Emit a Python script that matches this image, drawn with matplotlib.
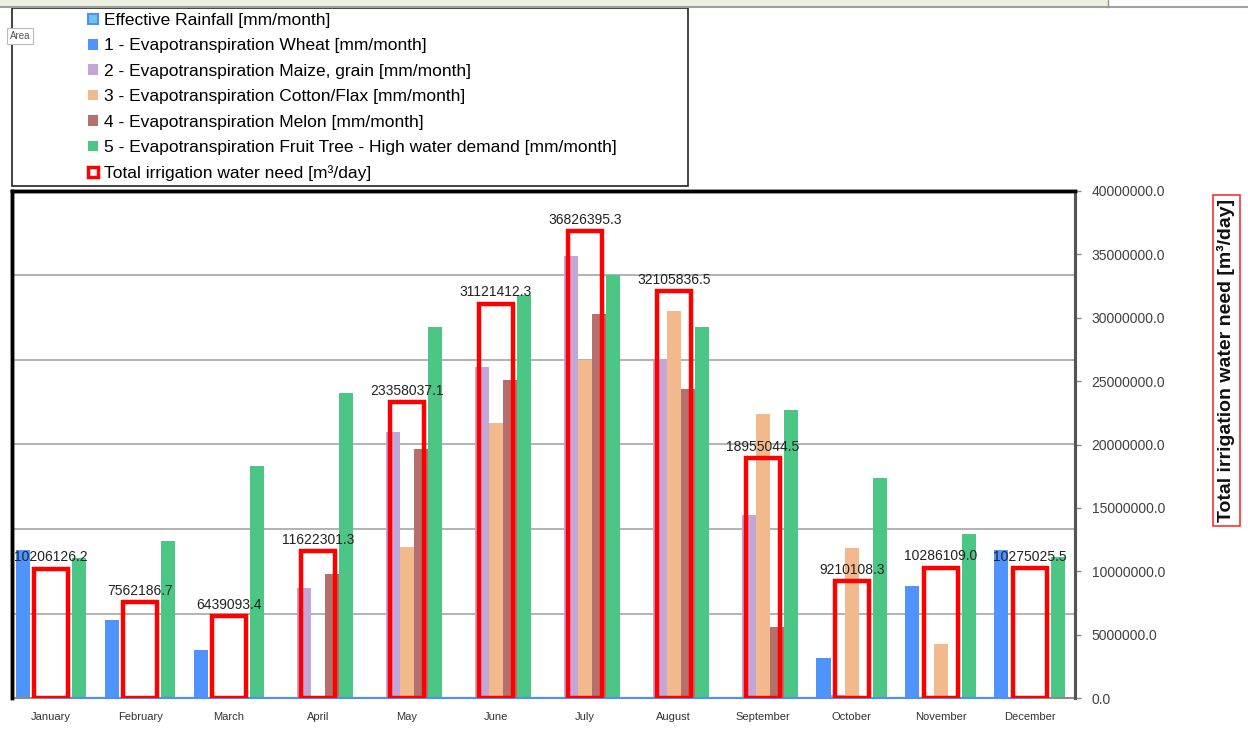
import matplotlib.pyplot as plt
import matplotlib.patches as mpatches
from matplotlib.lines import Line2D
import numpy as np

plt.rcParams['font.family'] = ['Liberation Sans', 'DejaVu Sans']

months = ['January', 'February', 'March', 'April', 'May', 'June',
          'July', 'August', 'September', 'October', 'November', 'December']

# mm/month (left axis, hidden)
rainfall = [0, 0, 0, 0, 0, 0, 0, 0, 0, 0, 0, 0]
wheat = [87.3, 46.2, 28.5, 0, 0, 0, 0, 0, 0, 23.7, 66.2, 87.3]
maize = [0, 0, 0, 65.2, 157.5, 196.0, 261.4, 200.0, 108.0, 1.6, 0, 0]
cotton = [0, 0, 0, 0, 89.3, 162.5, 200.0, 229.1, 168.0, 88.7, 32.1, 0]
melon = [0, 0, 0, 73.2, 147.5, 188.0, 227.3, 183.0, 42.1, 0, 0, 0]
fruit = [82.7, 92.9, 137.4, 180.2, 219.7, 238.4, 250.2, 219.3, 170.5, 130.4, 96.9, 83.3]

# m3/day (right axis)
total_need = [10206126.2, 7562186.7, 6439093.4, 11622301.3, 23358037.1, 31121412.3,
              36826395.3, 32105836.5, 18955044.5, 9210108.3, 10286109.0, 10275025.5]

labels = ['Effective Rainfall [mm/month]',
          '1 - Evapotranspiration Wheat [mm/month]',
          '2 - Evapotranspiration Maize, grain [mm/month]',
          '3 - Evapotranspiration Cotton/Flax [mm/month]',
          '4 - Evapotranspiration Melon [mm/month]',
          '5 - Evapotranspiration Fruit Tree - High water demand [mm/month]',
          'Total irrigation water need [m\u00b3/day]']

c_rain = '#4F8FF7'
colors = ['#4F93FF', '#C3A6D8', '#F2BA8C', '#B5706D', '#4CC685']

W, H = 1248, 732
fig = plt.figure(figsize=(W / 100, H / 100), dpi=100)

# window strip at the very top
fig.patches.append(mpatches.Rectangle((0, 1 - 6 / H), 1108 / W, 6 / H, transform=fig.transFigure,
                                      facecolor='#EBEFDF', edgecolor='none'))
fig.lines.append(Line2D([0, 1], [1 - 7 / H, 1 - 7 / H], transform=fig.transFigure, color='#A0A0A0', lw=1.5))
fig.lines.append(Line2D([1108 / W, 1108 / W], [1 - 7 / H, 1], transform=fig.transFigure, color='#909090', lw=1))

ax = fig.add_axes([12 / W, 1 - 698 / H, (1075 - 12) / W, (698 - 191) / H])
ax2 = ax.twinx()

x = np.arange(len(months))
bw = 0.159
series = [wheat, maize, cotton, melon, fruit]
handles = []
ax.fill_between(x, rainfall, color='#7FC8F8', edgecolor=c_rain, lw=1.5, zorder=3)
h_rain = mpatches.Patch(facecolor='#6EC6F0', edgecolor=c_rain, lw=1.5)
for i, (vals, col) in enumerate(zip(series, colors)):
    b = ax.bar(x + (i - 2) * bw, vals, bw, color=col, zorder=2)
    handles.append(b)

ax.set_ylim(0, 300)
ax.set_yticks(np.arange(0, 301, 50))
ax.yaxis.grid(True, color='#A6A6A6', lw=1.2)
ax.set_axisbelow(True)
ax.tick_params(axis='y', left=False, labelleft=False)
ax.set_xlim(-0.44, 11.51)
ax.set_xticks(x)
ax.set_xticklabels(months, fontsize=8, color='#333333')
ax.tick_params(axis='x', length=0, pad=10)

tb = ax2.bar(x, total_need, 0.385, facecolor='none', edgecolor='#FF0000', lw=3.2, zorder=4)
ax2.bar_label(tb, fmt='%.1f', padding=3, fontsize=10, color='#222222')
ax2.set_ylim(0, 40000000)
ax2.set_yticks(np.arange(0, 40000001, 5000000))
ax2.set_yticklabels(['%.1f' % v for v in np.arange(0, 40000001, 5000000)], fontsize=10, color='#404040')
ax2.tick_params(axis='y', length=4, width=1, color='#888888', pad=8)
ax2.set_ylabel(labels[-1], fontsize=14, fontweight='bold', color='#111111',
               bbox=dict(facecolor='white', edgecolor='#FF3030', lw=1.2, pad=3))
ax2.yaxis.set_label_coords(1.134, 0.665)

for a in (ax, ax2):
    a.spines['left'].set_color('black')
    a.spines['left'].set_linewidth(2.5)
    a.spines['top'].set_color('black')
    a.spines['top'].set_linewidth(2.5)
    a.spines['right'].set_color('#555555')
    a.spines['right'].set_linewidth(2.2)
    a.spines['bottom'].set_color('#8C8C8C')
    a.spines['bottom'].set_linewidth(1.5)
ax2.spines['bottom'].set_visible(False)

# legend box
fig.patches.append(mpatches.Rectangle((12 / W, 1 - 186 / H), 676 / W, 178 / H, transform=fig.transFigure,
                                      facecolor='white', edgecolor='#222222', lw=1.2))
h_total = mpatches.Patch(facecolor='white', edgecolor='#FF0000', lw=2.5)
fig.legend([h_rain] + handles + [h_total], labels, loc='upper left',
           bbox_to_anchor=(88 / W, 1 - 13 / H), frameon=False, fontsize=12.5,
           handlelength=0.55, handleheight=0.55, handletextpad=0.35,
           labelspacing=0.6, borderpad=0, borderaxespad=0)

fig.text(10 / W, 1 - 36 / H, 'Area', fontsize=7, color='#555555', va='center', ha='left',
         bbox=dict(facecolor='white', edgecolor='#BBBBBB', lw=0.8, pad=2))

fig.savefig('out.png', dpi=100)
